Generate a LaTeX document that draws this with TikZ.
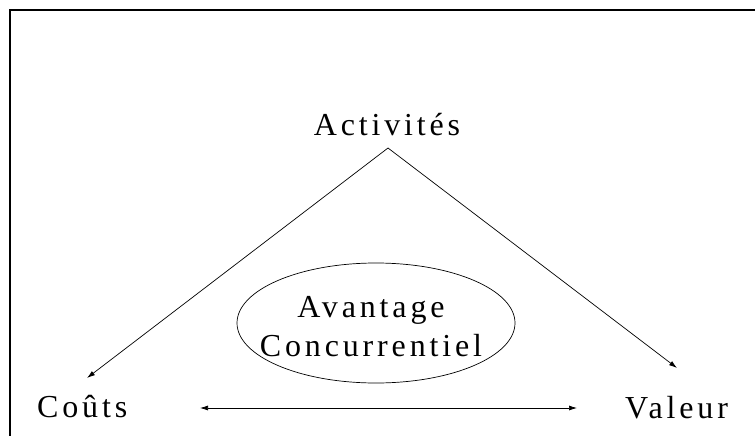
\documentclass[tikz,border=0pt]{standalone}
\usepackage{fontspec}
\setmainfont{Liberation Serif}[LetterSpace=12]
\usetikzlibrary{arrows.meta}

\begin{document}
\begin{tikzpicture}[x=1pt,y=-1pt,
        texte/.style={font=\fontsize{32}{39}\selectfont, inner sep=3pt},
        fleche/.style={line width=0.7pt, -{Latex[length=8pt,width=5pt]}}]
        \useasboundingbox (0,0) rectangle (755,436);
        \draw[line width=2pt] (755,10) -- (10,10) -- (10,436);

        \node[texte, anchor=base] (act) at (387,135) {Activités};
        \node[texte, anchor=base west] (couts) at (34,417) {Coûts};
        \node[texte, anchor=base west] (val) at (622,418) {Valeur};
        \node[texte, align=center] (avant) at (371,327) {Avantage\\Concurrentiel};
        \draw[line width=0.7pt] (376,323) ellipse [x radius=139, y radius=60];

        \coordinate (sommet) at (388,148);
        \coordinate (pc) at (87,378);
        \coordinate (pv) at (677,368);
        \coordinate (hg) at (200,408);
        \coordinate (hd) at (577,408);
        \draw[fleche] (sommet) -- (pc);
        \draw[fleche] (sommet) -- (pv);
        \draw[fleche, {Latex[length=8pt,width=5pt]}-{Latex[length=8pt,width=5pt]}] (hg) -- (hd);
    \end{tikzpicture}
\end{document}
